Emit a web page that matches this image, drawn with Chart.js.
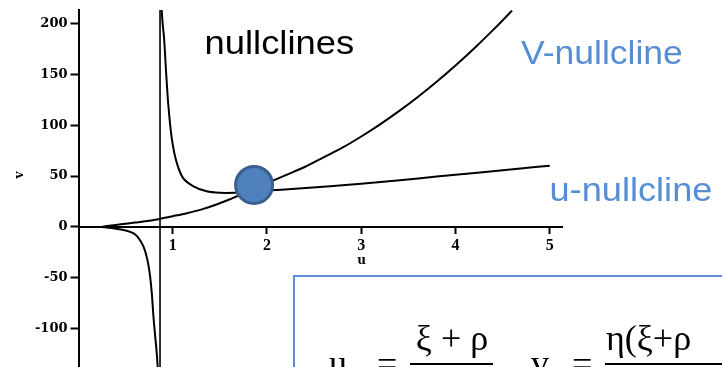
<!DOCTYPE html>
<html>
<head>
<meta charset="utf-8">
<title>nullclines</title>
<script src="https://cdn.jsdelivr.net/npm/chart.js@4.4.1/dist/chart.umd.min.js"></script>
<style>
  html, body { margin: 0; padding: 0; background: #fff; }
  #wrap { width: 722px; height: 367px; position: relative; overflow: hidden; }
</style>
</head>
<body>
<div id="wrap"><canvas id="nullclineChart" width="722" height="367"></canvas></div>
<script>
// V-nullcline (rises from the u axis, steep for large u)
const vNullU = [0.24, 0.3, 0.45, 0.6, 0.75, 0.87, 1.0, 1.15, 1.3, 1.45, 1.6, 1.75, 1.9, 2.05, 2.2, 2.4, 2.6, 2.8, 3.0, 3.2, 3.4, 3.6, 3.8, 4.0, 4.2, 4.4, 4.6];
const vNullV = [0, 0.8, 2.5, 4.2, 6, 8, 10.5, 13.5, 17, 21.5, 27, 33, 39, 45, 51, 59, 68.5, 78, 89, 101, 114, 128, 143, 159, 176, 194, 213];

// u-nullcline, branch left of the pole
const uNullLeftU = [0.24, 0.35, 0.45, 0.52, 0.58, 0.63, 0.69, 0.73, 0.76, 0.78, 0.795, 0.812, 0.83, 0.845];
const uNullLeftV = [0, -1, -2.5, -4, -6.2, -10, -19.4, -32, -49, -68, -88, -106, -124, -145];

// u-nullcline, branch right of the pole
const uNullRightU = [0.88, 0.885, 0.895, 0.908, 0.929, 0.953, 0.99, 1.04, 1.11, 1.22, 1.36, 1.5, 1.65, 1.8, 2.0, 2.3, 2.67, 3.0, 3.41, 3.8, 4.26, 4.69, 5.0];
const uNullRightV = [225, 210, 198, 186, 153, 120, 87, 64, 48, 40, 35, 33.5, 33.5, 34.5, 35.8, 37.5, 40, 42.5, 46, 49.5, 53.5, 57.5, 60.3];

// vertical asymptote of the u-nullcline
const poleU = [0.865, 0.865];
const poleV = [-150, 230];

// equilibrium (intersection of the nullclines)
const fixedU = [1.863];
const fixedV = [41.3];

const xTicks = [1, 2, 3, 4, 5];
const yTicks = [-100, -50, 0, 50, 100, 150, 200];

const toPoints = (xs, ys) => xs.map((x, i) => ({x: x, y: ys[i]}));

const curve = (data, width) => ({
    data: data,
    showLine: true,
    borderColor: '#000',
    borderWidth: width,
    pointRadius: 0,
    tension: 0.3,
    fill: false
});

// keep tick labels from pushing the plot area in
const noLabelPadding = s => {
    s.paddingTop = 0;
    s.paddingBottom = 0;
    s.paddingLeft = 0;
    s.paddingRight = 0;
};

// labels, axis names and the formula box
const annotations = {
    id: 'annotations',
    afterDraw(chart) {
        const ctx = chart.ctx;

        function stretched(text, x, baseline, size, color, sx) {
            ctx.save();
            ctx.font = size + 'px "Liberation Sans", Arial, sans-serif';
            ctx.fillStyle = color;
            ctx.textAlign = 'left';
            ctx.textBaseline = 'alphabetic';
            ctx.translate(x, baseline);
            ctx.scale(sx, 1);
            ctx.fillText(text, 0, 0);
            ctx.restore();
        }

        stretched('nullclines', 204.5, 53.5, 32.5, '#000', 1.12);
        stretched('V-nullcline', 521, 63.5, 33.5, '#558ed5', 1.06);
        stretched('u-nullcline', 549.5, 201, 33.5, '#558ed5', 1.08);

        // axis names
        ctx.save();
        ctx.font = 'bold 12px "DejaVu Serif", serif';
        ctx.fillStyle = '#000';
        ctx.textAlign = 'center';
        ctx.textBaseline = 'middle';
        ctx.fillText('u', 361.5, 261);
        ctx.translate(20, 175);
        ctx.rotate(-Math.PI / 2);
        ctx.fillText('v', 0, 0);
        ctx.restore();

        // formula box
        ctx.save();
        ctx.strokeStyle = '#5b8ed7';
        ctx.lineWidth = 2;
        ctx.strokeRect(294, 276, 500, 200);

        ctx.fillStyle = '#000';
        ctx.font = '36px "Liberation Serif", "Times New Roman", serif';
        ctx.textBaseline = 'alphabetic';
        ctx.textAlign = 'left';
        ctx.fillText('u', 329, 375);
        ctx.fillText('=', 377, 376);
        ctx.fillText('v', 531, 375);
        ctx.fillText('=', 572, 376);
        ctx.textAlign = 'center';
        ctx.fillText('\u03BE + \u03C1', 452, 350);
        ctx.textAlign = 'left';
        ctx.fillText('\u03B7(\u03BE+\u03C1', 606, 350);
        ctx.fillRect(410, 363, 83, 2);
        ctx.fillRect(605, 363, 130, 2);
        ctx.restore();
    }
};

const ctx = document.getElementById('nullclineChart').getContext('2d');
new Chart(ctx, {
    type: 'scatter',
    data: {
        datasets: [
            {
                data: toPoints(fixedU, fixedV),
                pointRadius: 18.5,
                pointHoverRadius: 18.5,
                backgroundColor: '#4f81bd',
                borderColor: '#3a5f8d',
                borderWidth: 3
            },
            curve(toPoints(vNullU, vNullV), 2),
            curve(toPoints(uNullLeftU, uNullLeftV), 2),
            curve(toPoints(uNullRightU, uNullRightV), 2),
            Object.assign(curve(toPoints(poleU, poleV), 1.6), {tension: 0})
        ]
    },
    options: {
        responsive: false,
        animation: false,
        events: [],
        layout: {
            autoPadding: false,
            padding: {left: 0, top: 10, right: 160, bottom: 0}
        },
        plugins: {
            legend: {display: false},
            tooltip: {enabled: false}
        },
        scales: {
            x: {
                type: 'linear',
                position: {y: 0},
                min: 0,
                max: 5.13,
                afterBuildTicks: s => { s.ticks = xTicks.map(v => ({value: v})); },
                afterFit: noLabelPadding,
                grid: {drawOnChartArea: false, tickLength: 6, tickColor: '#000', tickWidth: 2},
                border: {color: '#000', width: 2},
                ticks: {
                    color: '#000',
                    padding: 3,
                    maxRotation: 0,
                    font: {family: '"Liberation Serif", "Times New Roman", serif', size: 16, weight: 'bold'}
                }
            },
            y: {
                type: 'linear',
                position: 'left',
                min: -138,
                max: 213.6,
                afterBuildTicks: s => { s.ticks = yTicks.map(v => ({value: v})); },
                afterFit: s => { noLabelPadding(s); s.width = 78.5; },
                grid: {drawOnChartArea: false, tickLength: 8, tickColor: '#000', tickWidth: 2},
                border: {color: '#000', width: 2},
                ticks: {
                    color: '#000',
                    padding: 3,
                    font: {family: '"DejaVu Serif", serif', size: 13, weight: 'bold'}
                }
            }
        }
    },
    plugins: [annotations]
});
</script>
</body>
</html>
